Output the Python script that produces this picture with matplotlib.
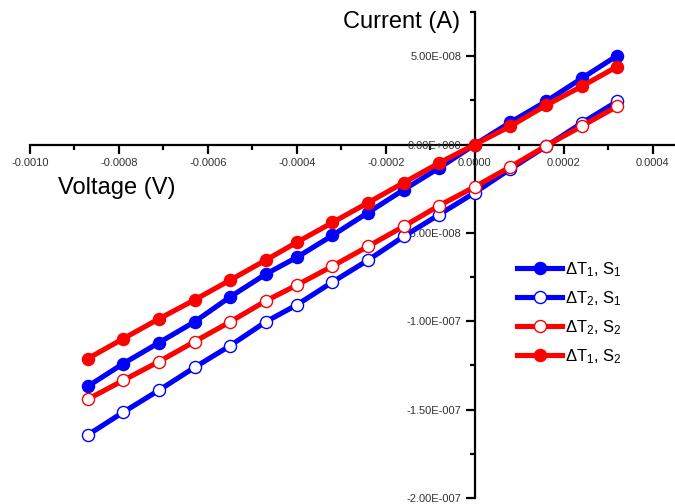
import matplotlib
matplotlib.use("Agg")
import matplotlib.pyplot as plt
from matplotlib.ticker import FixedLocator, MultipleLocator

plt.rcParams['font.family'] = ['Liberation Sans', 'DejaVu Sans']
plt.rcParams['mathtext.fontset'] = 'custom'
plt.rcParams['mathtext.rm'] = 'Liberation Sans'
plt.rcParams['mathtext.it'] = 'Liberation Sans'

voltage = [-0.00087, -0.00079, -0.00071, -0.00063, -0.00055, -0.00047, -0.00040,
           -0.00032, -0.00024, -0.00016, -0.00008, 0.0, 0.00008, 0.00016, 0.00024, 0.00032]

dT1_S1 = [-1.368e-7, -1.239e-7, -1.121e-7, -1.003e-7, -0.862e-7, -0.733e-7, -0.638e-7,
          -0.514e-7, -0.385e-7, -0.256e-7, -0.132e-7, 0.0, 0.126e-7, 0.244e-7, 0.374e-7, 0.503e-7]
dT2_S1 = [-1.643e-7, -1.514e-7, -1.390e-7, -1.261e-7, -1.138e-7, -1.003e-7, -0.907e-7,
          -0.778e-7, -0.654e-7, -0.520e-7, -0.396e-7, -0.272e-7, -0.138e-7, -0.010e-7, 0.121e-7, 0.244e-7]
dT2_S2 = [-1.441e-7, -1.334e-7, -1.228e-7, -1.115e-7, -1.003e-7, -0.885e-7, -0.795e-7,
          -0.688e-7, -0.576e-7, -0.463e-7, -0.345e-7, -0.239e-7, -0.126e-7, -0.008e-7, 0.104e-7, 0.216e-7]
dT1_S2 = [-1.211e-7, -1.098e-7, -0.986e-7, -0.879e-7, -0.767e-7, -0.654e-7, -0.553e-7,
          -0.441e-7, -0.329e-7, -0.216e-7, -0.104e-7, 0.0, 0.104e-7, 0.222e-7, 0.329e-7, 0.441e-7]

labels = [r'$\Delta$T$_1$, S$_1$', r'$\Delta$T$_2$, S$_1$',
          r'$\Delta$T$_2$, S$_2$', r'$\Delta$T$_1$, S$_2$']

xticks = [-0.0010, -0.0008, -0.0006, -0.0004, -0.0002, 0.0, 0.0002, 0.0004]
xticklabels = ['-0.0010', '-0.0008', '-0.0006', '-0.0004', '-0.0002', '0.0000', '0.0002', '0.0004']
yticks = [-2e-7, -1.5e-7, -1e-7, -5e-8, 0.0, 5e-8]
yticklabels = ['-2.00E-007', '-1.50E-007', '-1.00E-007', '-5.00E-008', '0.00E+000', '5.00E-008']

BLUE = '#0000ff'
RED = '#ff0000'

fig = plt.figure(figsize=(6.75, 5.04), dpi=100)
ax = fig.add_axes([30/675, 1 - 498/504, 645/675, (498 - 12)/504])

lw = 3.7
ms = 8.7
h1, = ax.plot(voltage, dT1_S1, '-o', color=BLUE, lw=lw, ms=ms, mfc=BLUE, mec=BLUE, label=labels[0])
h2, = ax.plot(voltage, dT2_S1, '-o', color=BLUE, lw=lw, ms=ms, mfc='white', mec=BLUE, mew=1.0, label=labels[1])
h3, = ax.plot(voltage, dT2_S2, '-o', color=RED, lw=lw, ms=ms, mfc='white', mec=RED, mew=1.0, label=labels[2])
h4, = ax.plot(voltage, dT1_S2, '-o', color=RED, lw=lw, ms=ms, mfc=RED, mec=RED, label=labels[3])

ax.set_xlim(-0.001, 0.00045)
ax.set_ylim(-2e-7, 7.5e-8)

for s in ['top', 'right']:
    ax.spines[s].set_visible(False)
ax.spines['left'].set_position(('data', 0))
ax.spines['bottom'].set_position(('data', 0))
ax.spines['left'].set_linewidth(1.6)
ax.spines['bottom'].set_linewidth(1.6)
ax.spines['left'].set_zorder(1)
ax.spines['bottom'].set_zorder(1)

ax.xaxis.set_major_locator(FixedLocator(xticks))
ax.set_xticklabels(xticklabels)
ax.xaxis.set_minor_locator(MultipleLocator(0.0001))
ax.yaxis.set_major_locator(FixedLocator(yticks))
ax.set_yticklabels(yticklabels)
ax.yaxis.set_minor_locator(MultipleLocator(2.5e-8))

ax.tick_params(which='major', direction='out', length=6.5, width=1.6, labelsize=8, pad=3, color='black',
               labelcolor='#333333')
ax.tick_params(which='minor', direction='out', length=3.5, width=1.6)
ax.patch.set_visible(False)

fig.text(58/675, 1 - 188/504, 'Voltage (V)', fontsize=17, ha='left', va='center')
fig.text(343/675, 1 - 22/504, 'Current (A)', fontsize=17, ha='left', va='center')

leg = ax.legend(handles=[h1, h2, h3, h4], loc='upper left',
                frameon=False, fontsize=12, handlelength=2.7, handletextpad=0.2, labelspacing=0.62,
                borderpad=0, borderaxespad=0)
leg.set_bbox_to_anchor((517/675, 1 - 260/504), transform=fig.transFigure)

fig.savefig('out.png', dpi=100)
